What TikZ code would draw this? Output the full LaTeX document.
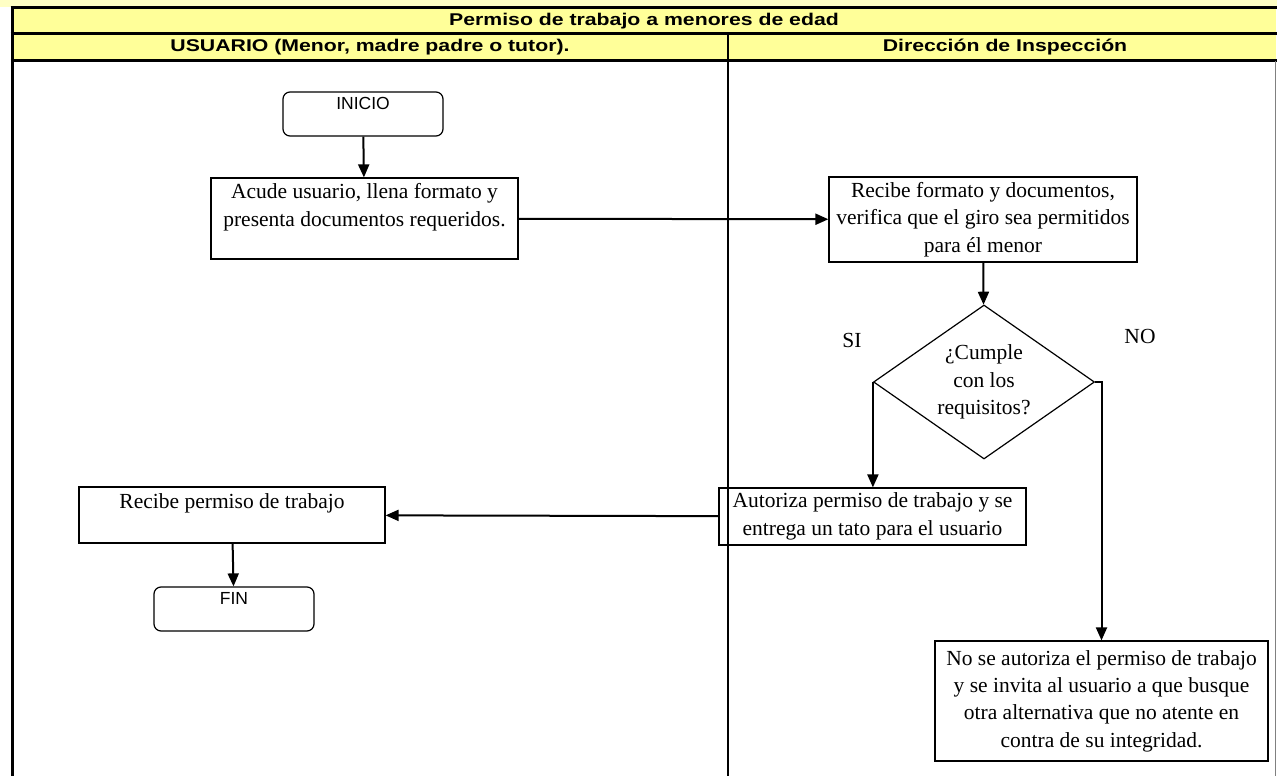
\documentclass[tikz,border=0pt]{standalone}
\usepackage{fontspec}
\setmainfont{Liberation Serif}
\newfontfamily\hdrfont{Liberation Sans}[FakeStretch=1.25]
\newfontfamily\boxsans{Liberation Sans}
\usetikzlibrary{shapes.geometric, arrows.meta}
\definecolor{hdryellow}{HTML}{FFFF99}
\definecolor{paleyellow}{HTML}{FFFFC4}
\tikzstyle{startstop} = [rectangle, rounded corners=7pt, draw, line width=1.2pt, minimum width=160pt, inner sep=0pt, text height=17pt, text depth=27pt, font=\boxsans\fontsize{17.5}{20}\selectfont]
\tikzstyle{process} = [rectangle, draw, line width=1.2pt, align=center, inner sep=3pt, font=\fontsize{21.5}{27.3}\selectfont]
\tikzstyle{decision} = [diamond, draw, line width=1.2pt, minimum width=221pt, minimum height=154pt, inner sep=0pt, aspect=1.43, align=center, font=\fontsize{21.5}{27.5}\selectfont]
\tikzstyle{answer} = [font=\fontsize{21.5}{27}\selectfont]
\tikzstyle{header} = [font=\hdrfont\bfseries\fontsize{17}{20}\selectfont]
\tikzstyle{rule} = [line width=3pt]
\tikzstyle{arrow} = [line width=2pt, -{Triangle[length=13pt,width=11pt]}]

\begin{document}
\begin{tikzpicture}[x=1pt, y=-1pt]
            \useasboundingbox (0,0) rectangle (1277,776);
            \fill [paleyellow] (0,0) rectangle (1277,7);
            \fill [hdryellow] (12,8) rectangle (1276,61);
            \draw [rule] (10.5,8) -- (1277,8);
            \draw [rule] (10.5,34) -- (1277,34);
            \draw [rule] (10.5,61) -- (1277,61);
            \draw [rule] (12,7) -- (12,776);
            \draw [line width=2.5pt] (728,34) -- (728,776);
            \draw [gray, line width=1pt] (1275.5,61) -- (1275.5,776);

            \node [header] at (644,21) (title) {Permiso de trabajo a menores de edad};
            \node [header] at (370,47.5) (usuario) {USUARIO (Menor, madre padre o tutor).};
            \node [header] at (1005,47.5) (direccion) {Dirección de Inspección};

            \node [startstop] at (363,114) (inicio) {INICIO};
            \node [process, minimum width=307pt, minimum height=81pt] at (364.5,218.5) (acude) {Acude usuario, llena formato y\\presenta documentos requeridos.\\ \mbox{}};
            \node [process, minimum width=308pt, minimum height=85pt] at (983,219.5) (recibe) {Recibe formato y documentos,\\verifica que el giro sea permitidos\\para él menor};
            \node [decision] at (984,382) (cumple) {¿Cumple\\con los\\requisitos?};
            \node [answer] at (852,340) (si) {SI};
            \node [answer] at (1140,336) (no) {NO};
            \node [process, minimum width=307pt, minimum height=57pt] at (872.5,516.5) (autoriza) {Autoriza permiso de trabajo y se\\entrega un tato para el usuario};
            \node [process, minimum width=306pt, minimum height=56pt] at (232,515) (permiso) {Recibe permiso de trabajo\\ \mbox{}};
            \node [startstop] at (234,609) (fin) {FIN};
            \node [process, minimum width=333pt, minimum height=120pt] at (1101.5,701) (noauto) {No se autoriza el permiso de trabajo\\y se invita al usuario a que busque\\otra alternativa que no atente en\\contra de su integridad.};

            \draw [arrow] (inicio) -- (acude);
            \draw [arrow] (acude) -- (recibe);
            \draw [arrow] (recibe) -- (cumple);
            \draw [arrow] (cumple.west) -- (cumple.west |- autoriza.north);
            \draw [arrow] (cumple.east) -| (noauto.north);
            \draw [arrow] (autoriza) -- (permiso);
            \draw [arrow] (permiso) -- (fin);
            \end{tikzpicture}
\end{document}
